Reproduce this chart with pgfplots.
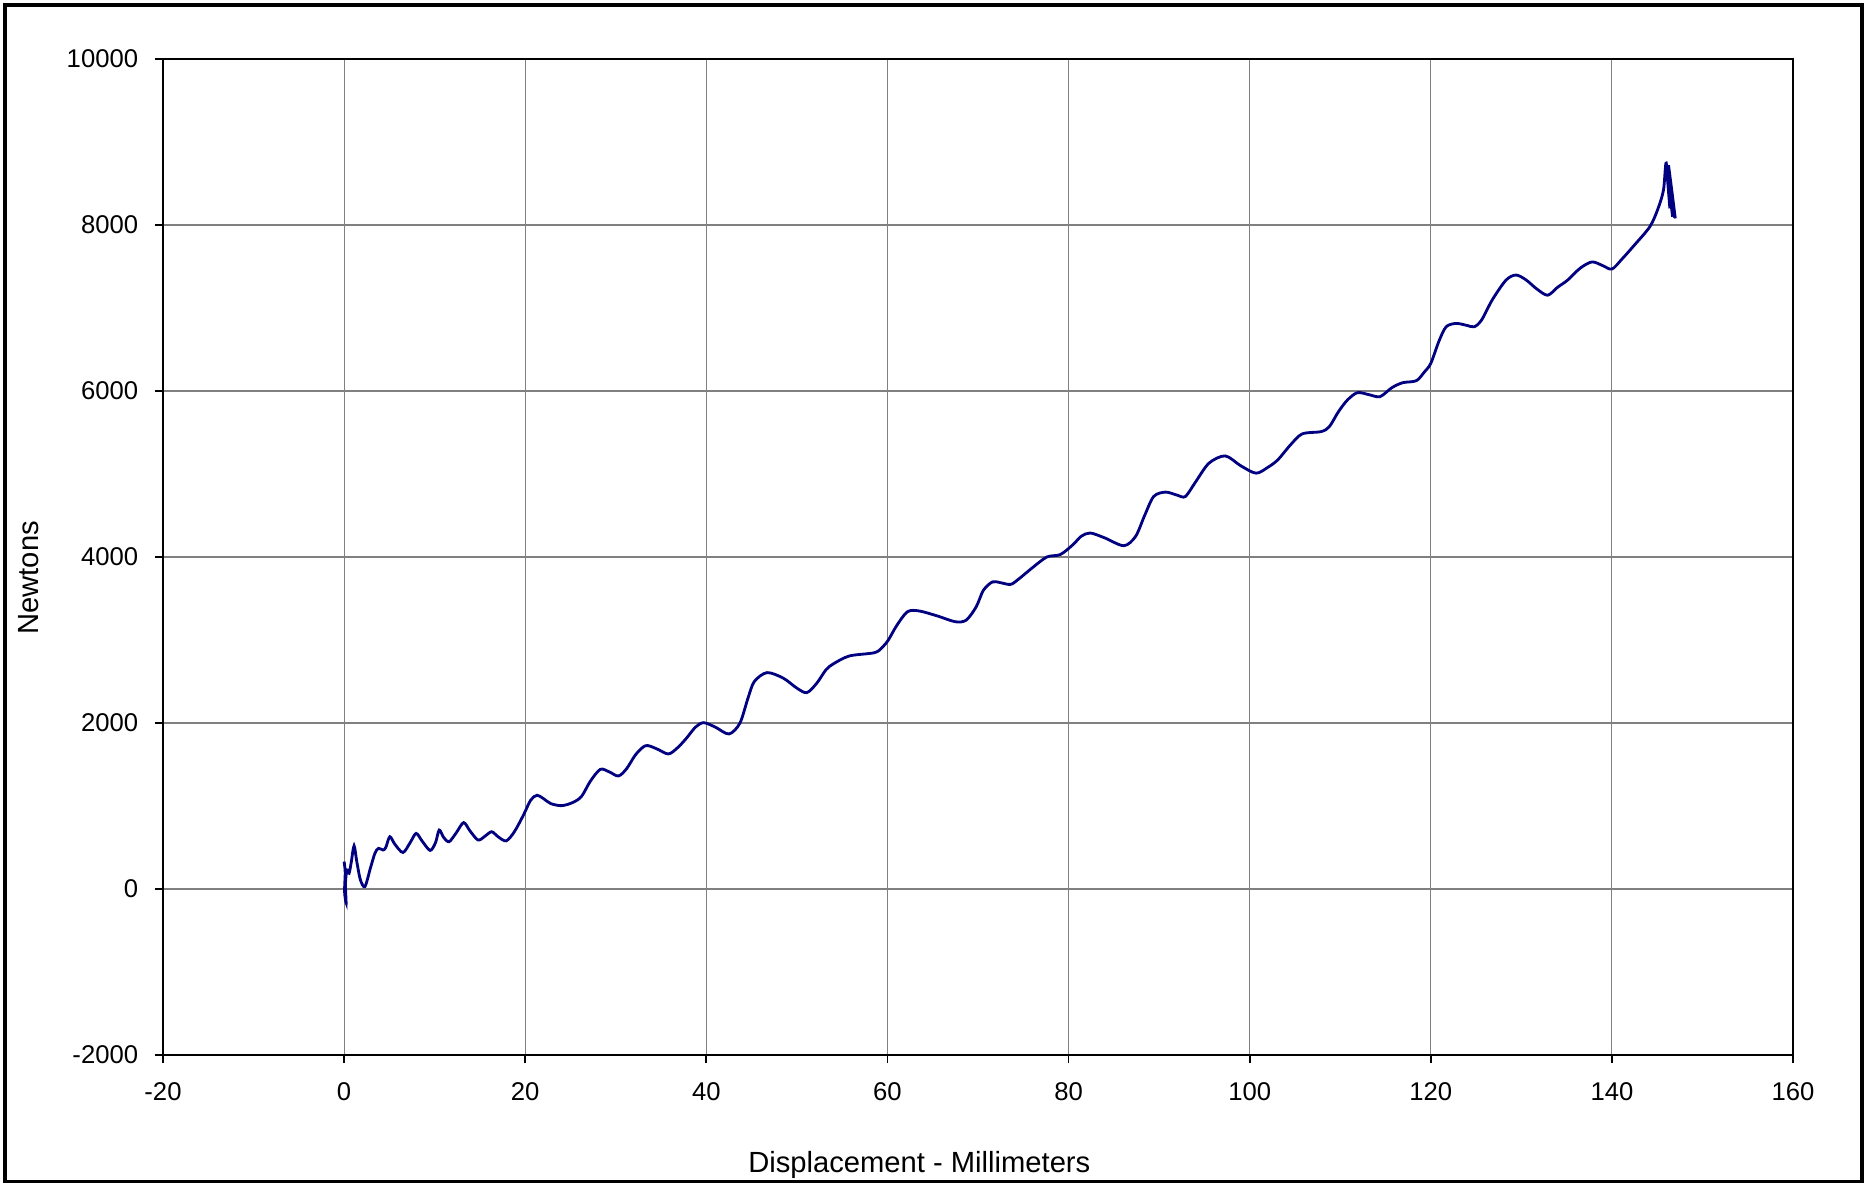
\documentclass[border=0pt]{standalone}
\usepackage{pgfplots}
\pgfplotsset{compat=1.18}
\usepackage{fontspec}
\setmainfont{Liberation Sans}
\definecolor{navyline}{RGB}{0,0,128}
\definecolor{gridgray}{RGB}{128,128,128}
\begin{document}
\begin{tikzpicture}
\useasboundingbox (-16.3mm,-12.8mm) rectangle (170.8mm,105.5mm);
\draw[line width=0.9pt] (-15.8mm,-12.65mm) rectangle (169.9mm,105.0mm);
\begin{axis}[
  at={(0,0)}, anchor=south west,
  scale only axis, width=163mm, height=99.6mm,
  xmin=-20, xmax=160, ymin=-2000, ymax=10000,
  xtick={-20,0,...,160}, ytick={-2000,0,...,10000},
  scaled y ticks=false, scaled x ticks=false,
  grid=major, major grid style={gridgray, line width=0.3pt},
  tick align=outside, major tick length=0.8mm, tick pos=left,
  tick style={black, line width=0.5pt},
  axis line style={black, line width=0.55pt},
  /pgf/number format/assume math mode=true,
  /pgf/number format/1000 sep={},
  ticklabel style={font=\fontsize{7.3}{8.8}\selectfont},
  yticklabel style={xshift=-0.45mm},
  xticklabel style={yshift=-0.75mm},
  xlabel={Displacement - Millimeters},
  ylabel={Newtons},
  label style={font=\fontsize{8.3}{10}\selectfont},
  xlabel style={at={(axis description cs:0.464,-0.110)}, anchor=center},
  ylabel style={at={(axis description cs:-0.0825,0.479)}, anchor=center},
]
\addplot[navyline, line width=0.8pt, smooth, tension=0.5] coordinates {
(0.00,330) (0.12,200) (0.05,-30) (0.22,-165) (0.15,60) (0.30,230) (0.55,190)
(0.80,330) (1.10,520) (1.40,330) (1.80,110) (2.30,30) (2.90,250) (3.40,430)
(3.80,490) (4.30,470) (4.60,500) (5.05,630) (5.60,540) (6.50,440) (7.30,560)
(7.95,670) (8.60,580) (9.50,465) (10.10,560) (10.50,710) (11.00,620) (11.60,570)
(12.40,680) (13.20,800) (13.90,700) (14.80,590) (15.60,640) (16.30,690) (17.00,630)
(17.90,580) (18.80,690) (19.80,890) (20.60,1070) (21.30,1130) (22.00,1090) (22.80,1030)
(24.00,1004) (25.20,1040) (26.20,1113) (27.20,1300) (28.30,1442) (29.30,1410) (30.30,1362)
(31.20,1450) (32.20,1620) (33.30,1727) (34.50,1690) (35.80,1627) (36.80,1700) (37.80,1816)
(38.80,1950) (39.70,2004) (41.00,1950) (42.50,1868) (43.70,1997) (44.60,2300) (45.30,2500)
(46.70,2607) (48.50,2540) (50.00,2420) (51.10,2366) (52.20,2480) (53.20,2640) (54.00,2711)
(55.80,2808) (58.60,2848) (59.50,2920) (60.10,3000) (61.00,3170) (62.20,3340) (63.50,3350)
(65.50,3290) (67.50,3220) (68.70,3240) (69.80,3400) (70.60,3600) (71.60,3700) (72.50,3690)
(73.60,3670) (74.50,3735) (76.00,3870) (77.60,4000) (79.10,4030) (80.50,4150) (81.40,4250)
(82.40,4289) (84.00,4230) (86.10,4136) (87.40,4248) (88.40,4500) (89.40,4729) (90.70,4782)
(92.00,4745) (92.90,4729) (94.00,4900) (95.50,5130) (97.30,5218) (99.00,5100) (100.70,5010)
(102.00,5080) (103.10,5170) (104.50,5350) (105.80,5483) (107.90,5511) (108.80,5571) (109.80,5750)
(110.80,5892) (111.90,5980) (113.20,5955) (114.40,5932) (115.70,6040) (116.90,6100) (118.40,6124)
(119.30,6230) (120.00,6333) (120.90,6600) (121.70,6774) (122.80,6814) (124.00,6790) (124.80,6774)
(125.60,6854) (126.80,7100) (128.30,7335) (129.40,7397) (130.50,7340) (131.70,7230) (132.90,7154)
(134.00,7250) (135.10,7335) (136.50,7480) (137.80,7555) (139.00,7510) (140.00,7469) (141.10,7588)
(142.50,7760) (144.20,7981) (145.10,8200) (145.70,8423) (146.00,8745) (146.40,8200) (146.05,8700)
(146.70,8100) (146.15,8650) (146.90,8090) (146.25,8720) (147.00,8080) (146.35,8600) (146.80,8150)
(146.10,8680) (146.60,8250) (146.20,8700) (146.95,8120) (146.30,8550) (146.75,8300) (146.15,8620)
(146.85,8180) (146.40,8500) (146.65,8350) (146.30,8450)
};
\end{axis}
\end{tikzpicture}
\end{document}
